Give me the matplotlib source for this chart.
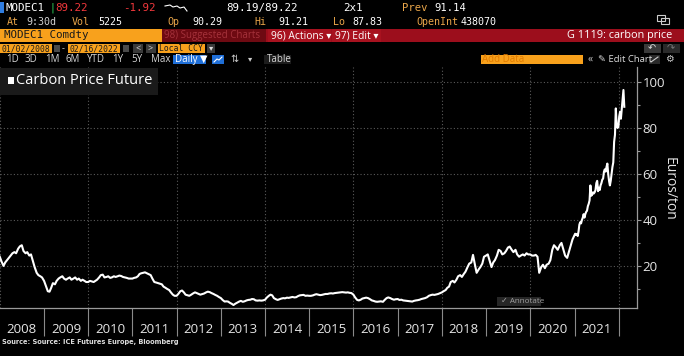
import matplotlib
matplotlib.use('Agg')
import matplotlib.pyplot as plt
import matplotlib.dates as mdates
from matplotlib.patches import Rectangle
import numpy as np
import pandas as pd

# semi-monthly closes (1st / 15th), Euros per ton
p2008 = [24.0, 22.0, 20.0, 21.5, 22.5, 23.5, 24.5, 25.5, 26.0, 25.5, 27.5, 28.5,
         29.0, 26.5, 25.5, 26.0, 24.5, 25.0, 22.0, 19.5, 17.0, 16.0, 15.5, 15.0]
p2009 = [13.5, 11.5, 9.0, 8.8, 10.5, 12.5, 12.0, 13.5, 14.5, 15.0, 15.5, 14.5,
         14.0, 14.5, 15.0, 14.0, 14.5, 15.0, 14.0, 14.5, 13.5, 14.0, 13.5, 13.0]
p2010 = [13.0, 13.5, 13.2, 13.0, 13.5, 14.0, 15.0, 16.0, 16.2, 15.0, 15.2, 15.5,
         14.8, 15.0, 15.5, 15.2, 15.5, 15.8, 15.6, 15.2, 15.0, 14.8, 14.5, 14.5]
p2011 = [14.5, 14.8, 15.0, 15.5, 16.5, 16.8, 17.0, 17.2, 16.8, 16.5, 16.0, 14.5,
         13.0, 12.8, 12.5, 12.3, 12.0, 11.0, 10.5, 10.0, 9.5, 8.5, 7.5, 7.0]
p2012 = [7.0, 7.8, 9.0, 9.3, 8.5, 7.5, 7.2, 7.0, 7.5, 8.0, 8.5, 8.2,
         7.8, 7.5, 7.8, 8.0, 8.5, 8.8, 8.6, 8.2, 7.8, 7.4, 7.0, 6.5]
p2013 = [6.0, 5.2, 4.5, 4.6, 4.5, 4.0, 3.5, 3.0, 3.6, 4.0, 4.5, 4.8,
         4.4, 4.6, 5.0, 5.2, 5.3, 5.6, 5.5, 5.0, 4.9, 5.0, 4.9, 5.0]
p2014 = [5.3, 6.2, 7.0, 7.5, 7.2, 6.0, 5.5, 5.2, 5.5, 5.8, 6.0, 5.9,
         6.2, 6.1, 6.3, 6.5, 6.3, 6.4, 6.9, 7.2, 7.3, 7.4, 7.0, 7.1]
p2015 = [7.0, 7.0, 7.2, 7.5, 7.7, 7.5, 7.3, 7.4, 7.6, 7.8, 7.8, 8.0,
         8.1, 8.0, 8.2, 8.3, 8.4, 8.5, 8.6, 8.5, 8.4, 8.5, 8.3, 8.2]
p2016 = [7.5, 6.3, 5.2, 5.0, 5.3, 5.8, 6.0, 6.2, 6.0, 5.6, 5.0, 4.8,
         4.5, 4.4, 4.5, 4.6, 4.4, 5.2, 6.0, 6.3, 6.0, 5.6, 5.3, 5.5]
p2017 = [5.6, 5.2, 5.3, 5.0, 4.9, 4.8, 4.7, 4.6, 4.5, 4.8, 5.0, 5.1,
         5.3, 5.6, 5.8, 6.0, 6.4, 7.0, 7.3, 7.5, 7.4, 7.6, 7.8, 8.1]
p2018 = [8.5, 9.0, 9.5, 10.5, 11.0, 13.0, 13.5, 12.8, 14.0, 15.5, 16.0, 15.2,
         16.5, 17.5, 19.5, 21.0, 21.5, 24.8, 20.5, 17.0, 18.5, 19.5, 21.0, 24.0]
p2019 = [24.5, 25.0, 22.0, 19.5, 21.5, 22.5, 24.5, 27.0, 26.5, 25.0, 25.5, 26.5,
         28.0, 28.4, 27.0, 26.0, 27.0, 25.0, 24.0, 24.5, 25.0, 24.5, 25.5, 25.0]
p2020 = [25.0, 24.5, 24.5, 24.8, 24.0, 17.0, 19.5, 20.5, 19.0, 20.5, 21.0, 22.5,
         27.0, 29.0, 28.0, 27.0, 29.0, 30.0, 27.0, 24.5, 23.5, 26.0, 29.0, 31.5]
# weekly (Wednesdays) 2021-01-06 .. 2022-02-16
p2021w = [34.0, 33.5, 33.8, 33.0, 35.0, 38.0, 39.0, 38.5, 40.0, 41.0, 42.5, 41.0,
          42.5, 43.5, 44.0, 46.0, 47.0, 48.5, 55.0, 50.5, 51.0, 52.0, 51.5, 52.0,
          53.0, 56.0, 57.0, 52.5, 54.0, 53.0, 55.0, 56.0, 57.5, 58.0, 61.0, 62.0,
          61.0, 63.0, 64.5, 60.0, 57.0, 55.0, 57.0, 60.0, 63.0, 65.0, 74.0, 77.0,
          88.5, 81.0, 80.0, 80.5, 85.0, 87.0, 84.0, 88.0, 92.0, 96.5, 89.2]

years = ['2008', '2009', '2010', '2011', '2012', '2013', '2014',
         '2015', '2016', '2017', '2018', '2019', '2020', '2021']
yticks = [20, 40, 60, 80, 100]

dates = pd.date_range('2008-01-01', '2020-12-15', freq='SMS').append(
    pd.date_range('2021-01-06', '2022-02-16', freq='W-WED'))
prices = np.concatenate([p2008, p2009, p2010, p2011, p2012, p2013, p2014, p2015,
                         p2016, p2017, p2018, p2019, p2020, p2021w])

W, H = 684, 356
fig = plt.figure(figsize=(6.84, 3.56), dpi=100, facecolor='black')

# main chart, position in pixels
L, R, T, B = 0, 637, 67, 308
ax = fig.add_axes([L / W, 1 - B / H, (R - L) / W, (B - T) / H], facecolor='black')
ax.plot(dates, prices, color='white', lw=1.5, zorder=3)
ax.set_xlim(pd.Timestamp('2008-01-03'), pd.Timestamp('2022-06-01'))
ax.set_ylim(1.7, 106.5)

for s in ['left', 'top']:
    ax.spines[s].set_visible(False)
for s in ['bottom', 'right']:
    ax.spines[s].set_color('#9a9a9a')
    ax.spines[s].set_linewidth(0.9)

ax.xaxis.set_major_locator(mdates.YearLocator())
ax.xaxis.set_major_formatter(plt.NullFormatter())
ax.xaxis.set_minor_locator(mdates.MonthLocator(bymonth=7, bymonthday=1))
ax.xaxis.set_minor_formatter(mdates.DateFormatter('%Y'))
ax.tick_params(axis='x', which='major', direction='out', length=20, width=0.8, color='#8a8a8a')
ax.tick_params(axis='x', which='minor', length=0, pad=11, labelsize=9.5, labelcolor='#e6e6e6')
for lbl in ax.get_xticklabels(minor=True):
    lbl.set_fontfamily('Open Sans')

ax.yaxis.tick_right()
ax.set_yticks(yticks)
ax.set_yticks([10, 30, 50, 70, 90], minor=True)
ax.tick_params(axis='y', which='major', length=3, width=0.8, color='#9a9a9a', pad=1,
               labelsize=9.5, labelcolor='#e6e6e6')
ax.tick_params(axis='y', which='minor', length=2, width=0.8, color='#9a9a9a')
for lbl in ax.get_yticklabels():
    lbl.set_fontfamily('Open Sans')

ax.grid(axis='y', which='major', color='#5a5a5a', ls=(0, (1, 2)), lw=0.8)
for y in years[::2] + ['2022']:
    ax.axvline(pd.Timestamp(y + '-01-01'), color='#5a5a5a', ls=(0, (1, 2)), lw=0.8, zorder=1)

# overlay in pixel coords for terminal chrome
ov = fig.add_axes([0, 0, 1, 1], facecolor='none')
ov.set_xlim(0, W)
ov.set_ylim(H, 0)
ov.axis('off')

mono = ['DejaVu Sans Mono', 'DejaVu Sans']
sans = ['Open Sans', 'DejaVu Sans']
tan = '#eaa64a'
red = '#f2383c'
orange = '#f8a11c'


def txt(x, y, s, c='white', size=8, fam=sans, **kw):
    ov.text(x, y, s, color=c, fontsize=size, family=fam, va='center', **kw)


def box(x0, y0, x1, y1, c):
    ov.add_patch(Rectangle((x0, y0), x1 - x0, y1 - y0, color=c, lw=0))


# row 1
box(0, 2, 4, 13, '#2f7de1')
txt(6, 8, 'MODEC1', size=7.8, fam=mono)
txt(49, 8, '|', c='#2fd45a', size=7, fam=mono)
txt(55, 8, '89.22', c=red, size=7.8, fam=mono)
txt(123, 8, '-1.92', c=red, size=7.8, fam=mono)
ov.plot([165, 170, 173, 177, 180, 184, 187], [6, 5, 7, 6, 8, 7, 11], color='white', lw=0.8)
txt(226, 8, '89.19/89.22', size=7.8, fam=mono)
txt(343, 8, '2x1', size=7.8, fam=mono)
txt(402, 8, 'Prev', c=tan, size=7.6, fam=mono)
txt(434, 8, '91.14', size=7.6, fam=mono)

# row 2
for x, s, c in [(7, 'At', tan), (26, '9:30d', '#d0d0d0'), (72, 'Vol', tan), (98, '5225', 'white'),
                (167, 'Op', tan), (192, '90.29', 'white'), (254, 'Hi', tan), (278, '91.21', 'white'),
                (333, 'Lo', tan), (352, '87.83', 'white'), (416, 'OpenInt', tan), (461, '438070', 'white')]:
    txt(x, 22, s, c=c, size=7.2, fam=mono)
ov.add_patch(Rectangle((657, 15), 8, 6, fill=False, ec='#cccccc', lw=0.8))
ov.add_patch(Rectangle((661, 18), 8, 6, fill=False, ec='#cccccc', lw=0.8))

# row 3 bars
box(0, 29, 162, 42, orange)
txt(4, 35.5, 'MODEC1 Comdty', c='#1a1a1a', size=7.8, fam=mono)
box(162, 29, 684, 42, '#9c0e1c')
box(162, 29, 266, 42, '#6e0a12')
txt(164, 35.5, '98) Suggested Charts', c='#a5323b', size=7.0)
box(268, 29, 331, 42, '#a8121f')
txt(271, 35.5, '96) Actions ▾', c='white', size=7.4)
box(332, 29, 381, 42, '#a8121f')
txt(335, 35.5, '97) Edit ▾', c='white', size=7.4)
txt(672, 35.5, 'G 1119: carbon price', c='white', size=7.8, ha='right')

# row 4
box(0, 44, 52, 53, orange)
txt(1, 48.5, '01/02/2008', c='#1a1a1a', size=5.8, fam=mono)
box(54, 45, 60, 52, '#4a4a4a')
txt(62, 48.5, '-', c='#cccccc', size=6.5)
box(68, 44, 120, 53, orange)
txt(69, 48.5, '02/16/2022', c='#1a1a1a', size=5.8, fam=mono)
box(123, 45, 129, 52, '#4a4a4a')
box(133, 44, 143, 53, '#3a3a3a')
txt(135, 48.5, '<', c='#dddddd', size=6.5)
box(146, 44, 156, 53, '#3a3a3a')
txt(148, 48.5, '>', c='#dddddd', size=6.5)
box(158, 44, 205, 53, orange)
txt(159, 48.5, 'Local CCY', c='#1a1a1a', size=5.8, fam=mono)
box(207, 44, 215, 53, '#3a3a3a')
txt(208.5, 48.5, '▾', c='#dddddd', size=6)
box(644, 44, 661, 53, '#3a3a3a')
txt(648, 48.5, '↶', c='#dddddd', size=7)
box(663, 44, 680, 53, '#2a2a2a')
txt(667, 48.5, '↷', c='#777777', size=7)

# row 5 toolbar
for x, s in [(6, '1D'), (25, '3D'), (45, '1M'), (66, '6M'), (87, 'YTD'), (112, '1Y'), (131, '5Y'), (151, 'Max')]:
    txt(x, 59.5, s, c='#d5d5d5', size=7.0)
box(173, 55, 206, 64, '#1f6fd8')
txt(175, 59.5, 'Daily ▼', c='white', size=7.0)
box(212, 55, 224, 64, '#1f6fd8')
ov.plot([214, 217, 219, 222], [62, 59, 60, 57], color='white', lw=0.8)
txt(230, 59.5, '⇅', c='#cccccc', size=7)
txt(248, 59.5, '▾', c='#cccccc', size=6)
box(264, 55, 291, 64, '#1c1c1c')
txt(267, 59.5, 'Table', c='#d5d5d5', size=7.0)
box(481, 55, 583, 64, orange)
txt(482, 59.5, 'Add Data', c='#e07a00', size=7.0)
txt(588, 59.5, '«', c='#cccccc', size=7.5)
txt(598, 59.5, '✎ Edit Chart', c='#dddddd', size=6.8)
box(649, 55, 660, 64, '#2a2a2a')
ov.plot([651, 658], [62, 57], color='#cccccc', lw=0.8)
txt(665, 59.5, '⚙', c='#cccccc', size=7)

# legend box
box(0, 68, 158, 95, '#1a1a1a')
box(8, 77, 14, 84, 'white')
txt(16, 80.5, 'Carbon Price Future', c='white', size=10.5)

# annotate button
box(497, 297, 541, 306, '#262626')
txt(501, 301.5, '✓ Annotate', c='#a0a0a0', size=5.8)

# y label
txt(669, 189, 'Euros/ton', c='#e6e6e6', size=10, rotation=270, ha='center')

# source
txt(2, 342, 'Source: Source: ICE Futures Europe, Bloomberg', c='#dddddd', size=4.8,
    fam=['DejaVu Sans'], weight='bold')

fig.savefig('out.png', dpi=100, facecolor='black')
